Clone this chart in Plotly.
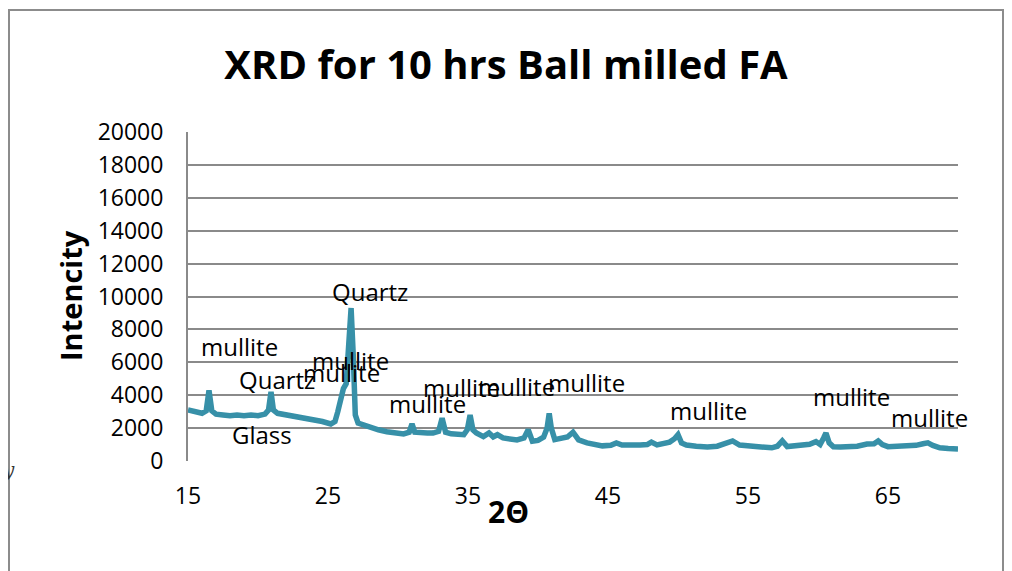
import plotly.graph_objects as go

# ---- data ----
two_theta = [15.0, 15.5, 16.0, 16.3, 16.5, 16.7, 17.0, 17.5, 18.0, 18.5, 19.0, 19.5, 20.0, 20.5, 20.75,
             20.93, 21.1, 21.4, 22.0, 22.6, 23.3, 24.0, 24.6, 25.2, 25.5, 25.7, 25.95, 26.1, 26.3, 26.5,
             26.65, 26.8, 26.95, 27.15, 27.6, 28.0, 28.6, 29.2, 29.8, 30.4, 30.8, 31.0, 31.2, 31.6, 32.1,
             32.5, 32.9, 33.15, 33.4, 33.8, 34.3, 34.7, 34.95, 35.15, 35.35, 35.6, 36.1, 36.5, 36.8, 37.1,
             37.5, 38.0, 38.5, 39.0, 39.3, 39.6, 40.0, 40.4, 40.65, 40.8, 40.95, 41.2, 41.7, 42.1, 42.5,
             42.9, 43.5, 44.0, 44.6, 45.2, 45.6, 46.0, 46.6, 47.3, 47.8, 48.1, 48.5, 49.0, 49.4, 49.75,
             50.0, 50.25, 50.6, 51.3, 52.1, 52.8, 53.4, 53.9, 54.4, 55.0, 55.6, 56.2, 56.7, 57.1, 57.45,
             57.8, 58.3, 58.9, 59.4, 59.85, 60.15, 60.4, 60.57, 60.8, 61.1, 61.6, 62.1, 62.8, 63.5, 64.0,
             64.3, 64.6, 65.0, 65.7, 66.4, 67.0, 67.5, 67.85, 68.2, 68.7, 69.3, 70.0]
intensity = [3100, 3000, 2900, 3050, 4300, 3050, 2850, 2800, 2750, 2800, 2750, 2800, 2750, 2850, 3100,
             4200, 3100, 2900, 2800, 2750, 2650, 2550, 2400, 2250, 2400, 3000, 4000, 4400, 4700, 7500,
             9300, 6500, 2800, 2300, 2150, 2050, 1900, 1780, 1700, 1650, 1750, 2250, 1750, 1700, 1700,
             1700, 1800, 2600, 1750, 1650, 1600, 1600, 1900, 2800, 1900, 1700, 1480, 1700, 1470, 1600,
             1400, 1320, 1280, 1400, 1900, 1200, 1250, 1450, 2000, 2900, 2000, 1300, 1350, 1460, 1750,
             1280, 1100, 1000, 920, 950, 1100, 970, 950, 970, 1000, 1150, 980, 1050, 1150, 1350,
             1600, 1100, 970, 900, 850, 900, 1050, 1220, 970, 920, 850, 820, 800, 900, 1220,
             880, 900, 970, 1020, 1180, 1000, 1400, 1700, 1100, 870, 850, 850, 900, 1030, 1050,
             1220, 1000, 870, 880, 900, 950, 1050, 1100, 950, 800, 760, 730]

label_text = ["mullite", "Quartz", "mullite", "mullite", "Quartz", "Glass", "mullite",
              "mullite", "mullite", "mullite", "mullite", "mullite", "mullite"]
label_x = [18.71, 21.36, 26.64, 25.93, 28.0, 20.29, 32.14, 34.5, 38.43, 43.43, 52.21, 62.36, 67.93]
label_y = [6990, 4925, 6140, 5410, 10275, 1640, 3525, 4440, 4500, 4800, 3100, 3950, 2675]

x_ticks = [15, 25, 35, 45, 55, 65]
y_ticks = [0, 2000, 4000, 6000, 8000, 10000, 12000, 14000, 16000, 18000, 20000]

title_text = "XRD for 10 hrs Ball milled FA"
x_title = "2Θ"
y_title = "Intencity"

FONT = "Open Sans"
GRID = "#8a8a8a"

# page offset (browser body margin) compensation
OFF = 8
W, H = 1012 - OFF, 571 - OFF
L, R, T, B = 180, 54, 124, 110
pw, ph = W - L - R, H - T - B


def px(xs):
    return (xs - OFF - L) / pw


def py(ys):
    return (H - B - (ys - OFF)) / ph


fig = go.Figure()
fig.add_trace(go.Scatter(x=two_theta, y=intensity, mode="lines",
                         line=dict(color="#3790a8", width=5.5), showlegend=False,
                         hoverinfo="x+y"))

for t, x, y in zip(label_text, label_x, label_y):
    fig.add_annotation(x=x, y=y, xref="x", yref="y", text=t, showarrow=False,
                       xanchor="center", yanchor="middle",
                       font=dict(family=FONT, size=24, color="#000000"))

fig.add_annotation(x=px(70), y=py(296), xref="paper", yref="paper", text="<b>%s</b>" % y_title,
                   textangle=-90, showarrow=False, xanchor="center", yanchor="middle",
                   font=dict(family=FONT, size=29, color="#000"))
fig.add_annotation(x=px(508), y=py(511), xref="paper", yref="paper", text="<b>%s</b>" % x_title,
                   showarrow=False, xanchor="center", yanchor="middle",
                   font=dict(family=FONT, size=30, color="#000"))
fig.add_annotation(x=px(8), y=py(470), xref="paper", yref="paper", text="<i>y</i>",
                   showarrow=False, xanchor="center", yanchor="middle",
                   font=dict(family="DejaVu Serif", size=20, color="#333"))

# outer chart frame
fig.add_shape(type="rect", xref="paper", yref="paper", x0=px(9), x1=px(1003), y0=py(620), y1=py(10),
              line=dict(color="#8c8c8c", width=2), fillcolor="rgba(0,0,0,0)", layer="below")

fig.update_layout(
    width=W, height=H,
    margin=dict(l=L, r=R, t=T, b=B, autoexpand=False),
    paper_bgcolor="white", plot_bgcolor="white",
    title=dict(text="<b>%s</b>" % title_text, x=(506 - OFF) / W, xref="container", xanchor="center",
               y=1 - (65 - OFF) / H, yref="container", yanchor="middle",
               font=dict(family=FONT, size=40, color="#000")),
    font=dict(family=FONT, color="#000"),
    xaxis=dict(range=[15, 70], tickvals=x_ticks, ticks="", showgrid=False, zeroline=False,
               showline=False, tickfont=dict(family=FONT, size=23, color="#000"),
               ticklabelstandoff=19),
    yaxis=dict(range=[0, 20000], tickvals=y_ticks, tickformat="d", ticks="", showgrid=True,
               gridcolor=GRID, gridwidth=2, zeroline=False, showline=True, linecolor=GRID,
               linewidth=2, tickfont=dict(family=FONT, size=23, color="#000"),
               ticklabelstandoff=18),
)

fig.write_html("out.html")
